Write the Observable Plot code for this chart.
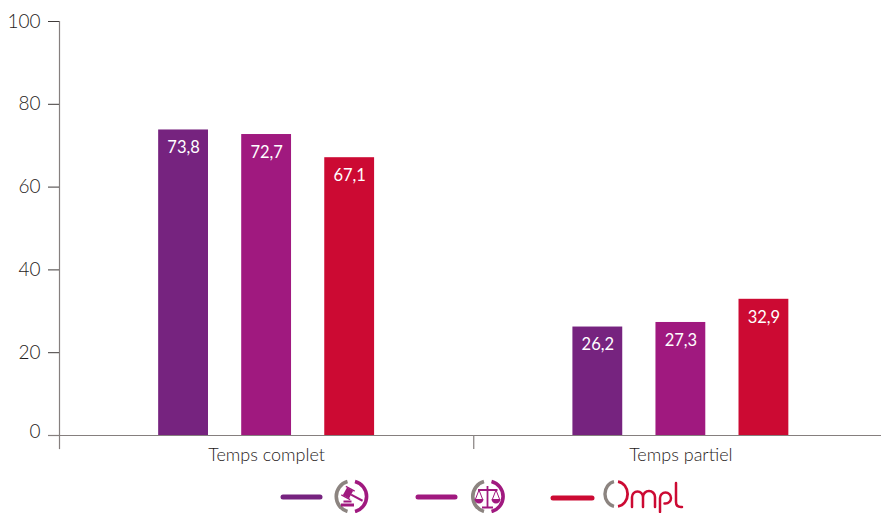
<!DOCTYPE html>
<html><head><meta charset="utf-8">
<script src="https://cdn.jsdelivr.net/npm/d3@7"></script>
<script src="https://cdn.jsdelivr.net/npm/@observablehq/plot@0.6"></script>
<style>
html,body{margin:0;padding:0;background:#fff}
#chart svg{display:block}
#legend{display:block}
</style></head><body>
<div id="chart"></div>
<svg id="legend" width="881" height="43" viewBox="0 470 881 43" xmlns="http://www.w3.org/2000/svg">
  <g fill="none" stroke-linecap="round">
    <line x1="283" x2="320" y1="497" y2="497" stroke="#76237f" stroke-width="5"/>
    <line x1="418" x2="455" y1="497" y2="497" stroke="#a0197f" stroke-width="5"/>
    <line x1="553" x2="592" y1="498" y2="498" stroke="#cc0a33" stroke-width="5"/>
  </g>
  <g fill="none" stroke-width="3.600">
    <path d="M347.500 481.600A15.500 15.500 0 0 0 347.500 511.400" stroke="#8c8480"/>
    <path d="M355 481.500A15.500 15.500 0 0 1 355 511.500" stroke="#a0197f"/>
    <path d="M484 481.600A15.500 15.500 0 0 0 484 511.400" stroke="#8c8480"/>
    <path d="M491.500 481.500A15.500 15.500 0 0 1 491.500 511.500" stroke="#a0197f"/>
    <path d="M614 481.700A11 12.500 0 0 0 614 506.300" stroke="#8c8480" stroke-width="3.400"/>
    <path d="M618 481.600A11 12.500 0 0 1 618 506.400" stroke="#cc0a33" stroke-width="2.800"/>
  </g>
  <g fill="#a0197f">
    <rect x="341" y="503.500" width="13" height="3"/>
    <rect x="343.500" y="500.500" width="8" height="2"/>
    <g transform="rotate(28 348 493)">
      <rect x="344.500" y="488.500" width="7" height="9"/>
      <rect x="343" y="487.500" width="10" height="1.300"/>
      <rect x="343" y="497.200" width="10" height="1.300"/>
      <rect x="351.500" y="492" width="13" height="2"/>
    </g>
  </g>
  <g fill="none" stroke="#a0197f" stroke-width="1.800">
    <path d="M487.500 486v21M478 490h19.500M482 507.500h11"/>
    <path d="M479 490l-3.500 9M479 490l3.500 9M496 490l-3.500 9M496 490l3.500 9" stroke-width="1"/>
  </g>
  <g fill="#a0197f">
    <path d="M474.500 499h9a4.500 4.500 0 0 1-9 0zM491.500 499h9a4.500 4.500 0 0 1-9 0z"/>
  </g>
  <g fill="none" stroke="#cc0a33" stroke-width="2.500" stroke-linecap="round">
    <path d="M632 507v-10a4.500 4.500 0 0 1 11 0v10M643 497a4.500 4.500 0 0 1 12 0v10"/>
    <path d="M660 512v-14a5.500 5.500 0 1 1 5.500 5.500h-1"/>
    <path d="M676 483v19q0 5 5 5h1"/>
  </g>
</svg>
<script>
const categories = ["Temps complet", "Temps partiel"];
const series = ["Magistrats", "Fonctionnaires", "Ompl"];
const valuesComplet = [73.8, 72.7, 67.1];
const valuesPartiel = [26.2, 27.3, 32.9];
const colors = ["#76237f", "#a0197f", "#cc0a33"];
const yTicks = [20, 40, 60, 80, 100];

const rows = [
  ...series.map((s, i) => ({category: categories[0], serie: s, value: valuesComplet[i]})),
  ...series.map((s, i) => ({category: categories[1], serie: s, value: valuesPartiel[i]}))
];
const fr = d3.format(".1f");
const label = d => fr(d.value).replace(".", ",");
const font = "Lato, 'Open Sans', sans-serif";

const chart = Plot.plot({
  width: 881, height: 470,
  marginLeft: 59, marginRight: 0, marginTop: 21, marginBottom: 35,
  style: {fontFamily: font, background: "#fff", overflow: "hidden"},
  fx: {domain: categories, range: [59, 887.500], padding: 0, round: false, label: null},
  x: {domain: series, paddingInner: 0.4, paddingOuter: 1.194, round: false, axis: null, label: null},
  y: {domain: [0, 100], label: null},
  color: {domain: series, range: colors},
  marks: [
    Plot.barY(rows, {fx: "category", x: "serie", y: "value", fill: "serie"}),
    Plot.text(rows, {fx: "category", x: "serie", y: "value", text: label, fill: "#fff", fontSize: 16.5, dy: 18}),
    Plot.ruleY([0], {stroke: "#857f7e", strokeWidth: 1.2}),
    Plot.frame({anchor: "left", facetAnchor: "left", stroke: "#857f7e", strokeWidth: 1.2}),
    Plot.frame({anchor: "left", insetTop: 414, insetBottom: -13, stroke: "#857f7e", strokeWidth: 1.2}),
    Plot.axisY(yTicks, {anchor: "left", tickSize: 11, tickPadding: 8, fontSize: 19, fill: "#1f1b1a", stroke: "#3f3a39", label: null, strokeOpacity: 1, strokeWidth: 1, fontWeight: 300}),
    Plot.axisY([0], {anchor: "left", tickSize: 11, text: null, stroke: "#857f7e", label: null, strokeOpacity: 1, strokeWidth: 1.2}),
    Plot.axisY([0], {anchor: "left", tickSize: 0, tickPadding: 19, fontSize: 19, fill: "#1f1b1a", label: null, dy: -4, fontWeight: 300}),
    Plot.axisFx({anchor: "bottom", tickSize: 0, tickPadding: 13, fontSize: 18, fill: "#1f1b1a", label: null, fontWeight: 300})
  ]
});
document.getElementById("chart").appendChild(chart);
</script>
</body></html>
